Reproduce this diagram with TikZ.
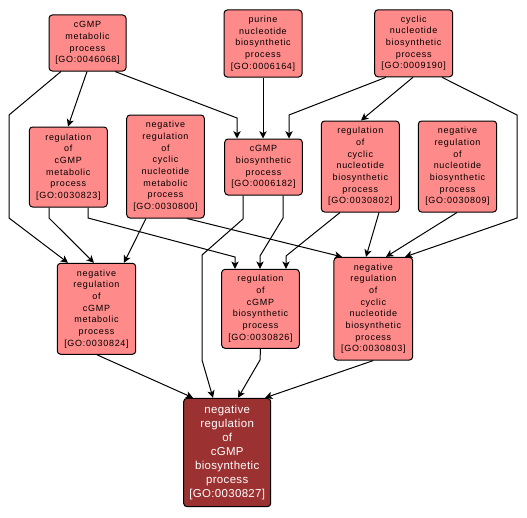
\documentclass[tikz,border=0pt]{standalone}
\usepackage{fontspec}
\usetikzlibrary{arrows.meta}
\newfontfamily\gofont[LetterSpace=8]{Liberation Sans}
\newfontfamily\gofontbig[LetterSpace=3]{Liberation Sans}
\definecolor{gofill}{HTML}{FF8A8A}
\definecolor{godark}{HTML}{9B3131}
\tikzset{
  gonode/.style={draw=black, line width=0.75pt, rounded corners=2.5pt, fill=gofill, inner sep=0pt, align=center,
    font=\gofont\fontsize{6.75pt}{8.75pt}\selectfont},
  godarknode/.style={gonode, fill=godark, text=white, font=\gofontbig\fontsize{8.6pt}{10.5pt}\selectfont},
  arr/.style={draw=black, line width=0.75pt, -{Stealth[length=5.5pt,width=5.5pt,inset=1.5pt]}}
}
\begin{document}
\begin{tikzpicture}[x=0.75pt,y=-0.75pt]
\useasboundingbox (0,0) rectangle (527,517);
\fill[white] (0,0) rectangle (527,517);
\node[gonode, minimum width=77pt*0.75, minimum height=56pt*0.75] (n1) at (87.5,43) {cGMP\\metabolic\\process\\{[GO:0046068]}};
\node[gonode, minimum width=78pt*0.75, minimum height=67pt*0.75] (n2) at (263,43.5) {purine\\nucleotide\\biosynthetic\\process\\{[GO:0006164]}};
\node[gonode, minimum width=78pt*0.75, minimum height=67pt*0.75] (n3) at (413.7,43.3) {cyclic\\nucleotide\\biosynthetic\\process\\{[GO:0009190]}};
\node[gonode, minimum width=78pt*0.75, minimum height=80pt*0.75] (n4) at (68.3,167) {regulation\\of\\cGMP\\metabolic\\process\\{[GO:0030823]}};
\node[gonode, minimum width=77.6pt*0.75, minimum height=103pt*0.75] (n5) at (165.5,166.5) {negative\\regulation\\of\\cyclic\\nucleotide\\metabolic\\process\\{[GO:0030800]}};
\node[gonode, minimum width=77.6pt*0.75, minimum height=56pt*0.75] (n6) at (263.5,167) {cGMP\\biosynthetic\\process\\{[GO:0006182]}};
\node[gonode, minimum width=78pt*0.75, minimum height=91pt*0.75] (n7) at (360.3,166.5) {regulation\\of\\cyclic\\nucleotide\\biosynthetic\\process\\{[GO:0030802]}};
\node[gonode, minimum width=78.4pt*0.75, minimum height=91pt*0.75] (n8) at (457.5,166.5) {negative\\regulation\\of\\nucleotide\\biosynthetic\\process\\{[GO:0030809]}};
\node[gonode, minimum width=78.4pt*0.75, minimum height=91pt*0.75] (n9) at (96.5,308.8) {negative\\regulation\\of\\cGMP\\metabolic\\process\\{[GO:0030824]}};
\node[gonode, minimum width=77.6pt*0.75, minimum height=79pt*0.75] (n10) at (260.5,308.8) {regulation\\of\\cGMP\\biosynthetic\\process\\{[GO:0030826]}};
\node[gonode, minimum width=78.7pt*0.75, minimum height=102.7pt*0.75] (n11) at (373.3,308.7) {negative\\regulation\\of\\cyclic\\nucleotide\\biosynthetic\\process\\{[GO:0030803]}};
\node[godarknode, minimum width=87pt*0.75, minimum height=108.4pt*0.75] (n12) at (227.2,452.5) {negative\\regulation\\of\\cGMP\\biosynthetic\\process\\{[GO:0030827]}};
% edges
\draw[arr] (87,0 |- n1.south) -- (68,0 |- n4.north);
\draw[arr] (115,0 |- n1.south) -- (237,118) -- (237,0 |- n6.north);
\draw[arr] (61,0 |- n1.south) -- (9,115) -- (9,218) -- (68,0 |- n9.north);
\draw[arr] (49,0 |- n4.south) -- (49,218) -- (94,0 |- n9.north);
\draw[arr] (88,0 |- n4.south) -- (88,218) -- (235,257) -- (235,0 |- n10.north);
\draw[arr] (146,0 |- n5.south) -- (124,0 |- n9.north);
\draw[arr] (187,0 |- n5.south) -- (342,0 |- n11.north);
\draw[arr] (243,0 |- n6.south) -- (243,219) -- (202,255) -- (202,360) -- (213,0 |- n12.north);
\draw[arr] (283,0 |- n6.south) -- (283,218) -- (260,256) -- (260,0 |- n10.north);
\draw[arr] (n2.south) -- (263,0 |- n6.north);
\draw[arr] (386,0 |- n3.south) -- (289,115) -- (289,0 |- n6.north);
\draw[arr] (413,0 |- n3.south) -- (361,0 |- n7.north);
\draw[arr] (442,0 |- n3.south) -- (517,115) -- (517,218) -- (405,0 |- n11.north);
\draw[arr] (340,0 |- n7.south) -- (286,256) -- (286,0 |- n10.north);
\draw[arr] (379,0 |- n7.south) -- (366,0 |- n11.north);
\draw[arr] (457,0 |- n8.south) -- (386,0 |- n11.north);
\draw[arr] (97,0 |- n9.south) -- (193,0 |- n12.north);
\draw[arr] (n10.south) -- (260,360) -- (238,0 |- n12.north);
\draw[arr] (n11.south) -- (265,0 |- n12.north);
\end{tikzpicture}
\end{document}
